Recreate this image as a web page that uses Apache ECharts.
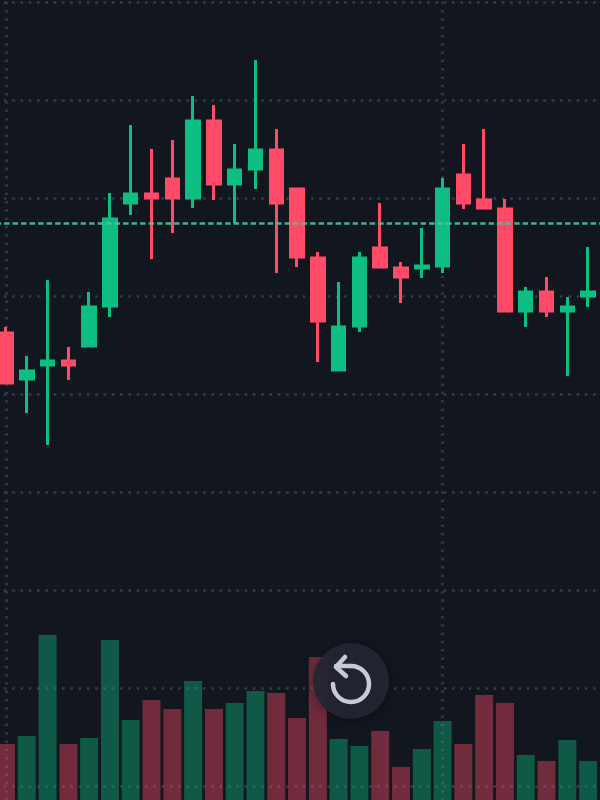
<!DOCTYPE html>
<html>
<head>
<meta charset="utf-8">
<style>
  html, body { margin: 0; padding: 0; background: #12161F; overflow: hidden; }
  #chart { width: 600px; height: 800px; }
</style>
<script src="https://cdn.jsdelivr.net/npm/echarts@6/dist/echarts.min.js"></script>
</head>
<body>
<div id="chart"></div>
<script>
const categories = ['1','2','3','4','5','6','7','8','9','10','11','12','13','14','15','16','17','18','19','20','21','22','23','24','25','26','27','28','29','30'];
const opens = [551,505,519,523,538,578,681,690,705,686,763,700,715,734,695,626,514,558,636,616,616,618,709,684,675,573,592,573,588];
const closes = [501,513,523,519,577,665,690,686,686,763,700,714,734,681,627,563,557,626,617,607,618,695,681,676,573,592,573,577,592];
const lows = [500,471,439,504,537,567,669,625,651,676,684,661,695,611,617,522,513,552,616,581,606,611,675,675,572,557,567,508,577];
const highs = [557,528,604,537,592,691,759,735,744,788,779,740,824,755,696,632,602,632,681,622,656,706,740,755,685,597,607,587,637];
const volumes = [56,64,165,56,62,160,80,100,91,119,91,97,109,107,82,143,61,54,69,33,51,79,56,105,97,45,39,60,39,35];
const lastPrice = 661;
const gridSteps = [0, 21];

const UP = '#0DBE82';
const DOWN = '#FF4B68';
const DOTS = { color: '#363B46', width: 2.5, type: [2.5, 5.8] };
const ICON = { stroke: '#C8CBD6', fill: 'none', lineWidth: 4.5, lineCap: 'round', lineJoin: 'round' };

const chart = echarts.init(document.getElementById('chart'));

const isDown = i => closes[i] < opens[i];

const hiddenX = gridIndex => ({
  type: 'category',
  gridIndex,
  data: categories,
  show: false
});

chart.setOption({
  animation: false,
  backgroundColor: '#12161F',
  grid: [
    { left: -4.4, width: 623.7, top: -96, height: 980, outerBoundsMode: 'none' },
    { left: -4.4, width: 623.7, top: 0, height: 800, outerBoundsMode: 'none' }
  ],
  xAxis: [hiddenX(0), hiddenX(1)],
  yAxis: [
    {
      type: 'value',
      gridIndex: 0,
      min: 0,
      max: 980,
      interval: 98,
      axisLine: { show: false },
      axisTick: { show: false },
      axisLabel: { show: false },
      splitLine: { show: true, lineStyle: DOTS }
    },
    {
      type: 'value',
      gridIndex: 1,
      min: 0,
      max: 800,
      show: false,
      splitLine: { show: false }
    }
  ],
  series: [
    {
      name: 'grid',
      type: 'line',
      data: [],
      silent: true,
      markLine: {
        z: 1,
        silent: true,
        symbol: 'none',
        label: { show: false },
        lineStyle: DOTS,
        data: gridSteps.map(i => ({ xAxis: i }))
      }
    },
    {
      name: 'volume',
      type: 'bar',
      xAxisIndex: 1,
      yAxisIndex: 1,
      barWidth: 18,
      z: 2,
      data: volumes.map((v, i) => ({
        value: v,
        itemStyle: { color: isDown(i) ? DOWN : UP, opacity: 0.4 }
      }))
    },
    {
      name: 'price',
      type: 'candlestick',
      barWidth: 13,
      z: 3,
      itemStyle: {
        color: UP,
        color0: DOWN,
        borderColor: UP,
        borderColor0: DOWN,
        borderWidth: 3
      },
      data: opens.map((o, i) => [o, closes[i], lows[i], highs[i]]),
      markLine: {
        silent: true,
        symbol: 'none',
        label: { show: false },
        lineStyle: { color: 'rgba(84, 190, 152, 0.9)', width: 2.5, type: [5.5, 3] },
        data: [{ yAxis: lastPrice }]
      }
    }
  ],
  graphic: [
    {
      type: 'circle',
      z: 100,
      shape: { cx: 351, cy: 681, r: 38 },
      style: {
        fill: 'rgba(35, 38, 50, 0.93)',
        shadowBlur: 14,
        shadowColor: 'rgba(0, 0, 0, 0.35)',
        shadowOffsetY: 2
      }
    },
    {
      type: 'arc',
      z: 101,
      shape: { cx: 351, cy: 684, r: 18, startAngle: -Math.PI / 2, endAngle: Math.PI, clockwise: true },
      style: ICON
    },
    {
      type: 'polyline',
      z: 101,
      shape: { points: [[345, 657], [336, 667], [346, 676]] },
      style: ICON
    },
    {
      type: 'polyline',
      z: 101,
      shape: { points: [[336, 666], [351, 666]] },
      style: ICON
    }
  ]
});
</script>
</body>
</html>
